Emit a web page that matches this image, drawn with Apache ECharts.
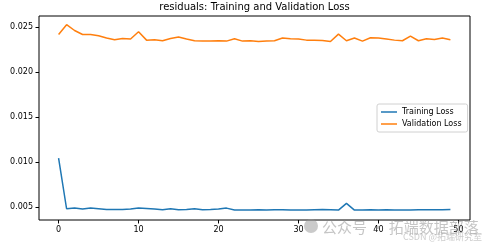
<!DOCTYPE html>
<html><head><meta charset="utf-8">
<script src="https://cdn.jsdelivr.net/npm/echarts@6/dist/echarts.min.js"></script>
<style>html,body{margin:0;padding:0;background:#fff}#c{width:493px;height:247px}</style>
</head><body><div id="c"></div>
<script>
const titleText = "residuals: Training and Validation Loss";
const epochs = Array.from({length: 50}, (_, i) => i);
const trainingLoss = [0.01044,0.00482,0.00489,0.00478,0.00489,0.00482,0.00474,0.00474,0.00474,0.00478,
  0.00489,0.00486,0.00478,0.00470,0.00482,0.00471,0.00474,0.00482,0.00471,0.00474,
  0.00478,0.00489,0.00467,0.00467,0.00467,0.00471,0.00467,0.00471,0.00471,0.00467,
  0.00467,0.00467,0.00471,0.00474,0.00471,0.00467,0.00541,0.00467,0.00467,0.00471,
  0.00467,0.00471,0.00467,0.00467,0.00467,0.00471,0.00471,0.00471,0.00471,0.00474];
const validationLoss = [0.02418,0.02526,0.02462,0.02418,0.02418,0.02403,0.02378,0.02359,0.02373,0.02367,
  0.02448,0.02355,0.02359,0.02348,0.02373,0.02389,0.02367,0.02348,0.02344,0.02344,
  0.02348,0.02344,0.02370,0.02344,0.02348,0.02340,0.02344,0.02348,0.02378,0.02370,
  0.02367,0.02355,0.02355,0.02352,0.02340,0.02422,0.02348,0.02378,0.02344,0.02381,
  0.02378,0.02367,0.02355,0.02348,0.02400,0.02348,0.02370,0.02363,0.02378,0.02359];
const xTicks = [0, 10, 20, 30, 40, 50];
const yTicks = [0.005, 0.010, 0.015, 0.020, 0.025];
const seriesNames = ["Training Loss", "Validation Loss"];
const colors = ["#1f77b4", "#ff7f0e"];

const font = "DejaVu Sans";
const chart = echarts.init(document.getElementById('c'), null, {renderer: 'canvas'});
chart.setOption({
  animation: false,
  color: colors,
  textStyle: {fontFamily: font},
  grid: {left: 39, right: 23, top: 16, bottom: 27, show: true, borderColor: '#000', borderWidth: 1},
  xAxis: {
    type: 'value', min: -2.45, max: 51.45,
    splitLine: {show: false},
    axisLine: {show: false, onZero: false},
    axisTick: {show: true, length: 3.5, inside: false, lineStyle: {color: '#000'}, customValues: xTicks},
    axisLabel: {color: '#000', fontSize: 8, fontFamily: font, margin: 6, customValues: xTicks,
      formatter: v => String(Math.round(v))}
  },
  yAxis: {
    type: 'value', min: 0.00357, max: 0.02623,
    splitLine: {show: false},
    axisLine: {show: false, onZero: false},
    axisTick: {show: true, length: 3.5, inside: false, lineStyle: {color: '#000'}, customValues: yTicks},
    axisLabel: {color: '#000', fontSize: 8, fontFamily: font, margin: 6, customValues: yTicks,
      formatter: v => v.toFixed(3)}
  },
  legend: {
    data: seriesNames.map(n => ({name: n, icon: 'rect'})),
    orient: 'vertical', left: 377, top: 104,
    itemWidth: 16, itemHeight: 1.5, itemGap: 4,
    padding: [4, 6, 4, 4],
    borderColor: '#d0d0d0', borderWidth: 1, borderRadius: 2,
    textStyle: {fontSize: 8, color: '#000', fontFamily: font}
  },
  graphic: [
    {type: 'text', x: 254.5, y: 7, style: {text: titleText, font: '10px "DejaVu Sans"', fill: '#000', textAlign: 'center', textVerticalAlign: 'middle'}},
    {type: 'text', x: 322, y: 227, z: 100, style: {text: '公众号 · 拓端数据部落', font: '15px "Noto Sans CJK SC"', fill: 'rgba(150,150,150,0.55)', textVerticalAlign: 'middle'}},
    {type: 'circle', shape: {cx: 311, cy: 226, r: 7}, z: 100, style: {fill: 'rgba(150,150,150,0.5)'}},
    {type: 'text', x: 403, y: 237, z: 100, style: {text: 'CSDN @拓端研究室', font: '9px "Noto Sans CJK SC"', fill: 'rgba(170,170,170,0.6)', textVerticalAlign: 'middle'}}
  ],
  series: [
    {name: seriesNames[0], type: 'line', data: epochs.map((e, i) => [e, trainingLoss[i]]), showSymbol: false, lineStyle: {width: 1.5}},
    {name: seriesNames[1], type: 'line', data: epochs.map((e, i) => [e, validationLoss[i]]), showSymbol: false, lineStyle: {width: 1.5}}
  ]
});
</script></body></html>
